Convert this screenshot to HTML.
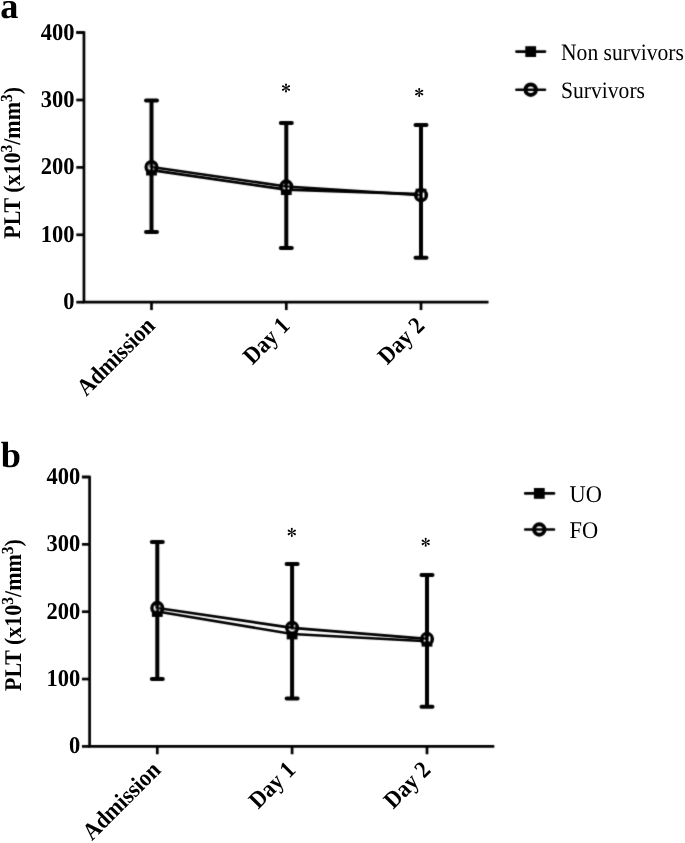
<!DOCTYPE html>
<html><head><meta charset="utf-8"><style>
html,body{margin:0;padding:0;background:#fff;}
body{width:685px;height:843px;overflow:hidden;}
svg{display:block;}
#w{filter:grayscale(1);width:685px;height:843px;}
text{font-family:"Liberation Serif",serif;fill:#000;text-rendering:geometricPrecision;}
.tl{font-weight:bold;font-size:22px;}
.sup{font-size:15.5px;}
.pl{font-weight:bold;font-size:36.3px;}
.lg{font-size:21.6px;}
.ast{font-size:22px;}
</style></head><body>
<div id="w"><svg width="685" height="843" viewBox="0 0 685 843">
<defs><filter id="bl" x="0" y="0" width="685" height="843" filterUnits="userSpaceOnUse"><feConvolveMatrix order="3" kernelMatrix="0.0196 0.1008 0.0196 0.1008 0.5184 0.1008 0.0196 0.1008 0.0196" divisor="1" edgeMode="none"/></filter></defs>
<rect width="685" height="843" fill="#fff"/>
<g filter="url(#bl)">
<path d="M76.30 32.50H83.95V302.20H488.50" fill="none" stroke="#000" stroke-width="2.7" stroke-linejoin="miter"/>
<line x1="76.30" y1="302.20" x2="83.95" y2="302.20" stroke="#000" stroke-width="2.7"/>
<line x1="76.30" y1="234.80" x2="83.95" y2="234.80" stroke="#000" stroke-width="2.7"/>
<line x1="76.30" y1="167.40" x2="83.95" y2="167.40" stroke="#000" stroke-width="2.7"/>
<line x1="76.30" y1="100.00" x2="83.95" y2="100.00" stroke="#000" stroke-width="2.7"/>
<line x1="76.30" y1="32.50" x2="83.95" y2="32.50" stroke="#000" stroke-width="2.7"/>
<line x1="151.50" y1="302.20" x2="151.50" y2="310.05" stroke="#000" stroke-width="2.7"/>
<line x1="286.30" y1="302.20" x2="286.30" y2="310.05" stroke="#000" stroke-width="2.7"/>
<line x1="421.00" y1="302.20" x2="421.00" y2="310.05" stroke="#000" stroke-width="2.7"/>
<polyline points="151.50,170.10 286.30,189.64 421.00,194.09" fill="none" stroke="#000" stroke-width="2.6"/>
<rect x="146.10" y="164.70" width="10.8" height="10.8" fill="#000"/>
<rect x="280.90" y="184.24" width="10.8" height="10.8" fill="#000"/>
<rect x="415.60" y="188.69" width="10.8" height="10.8" fill="#000"/>
<circle cx="151.50" cy="167.00" r="5.2" fill="#fff"/>
<circle cx="286.30" cy="186.47" r="5.2" fill="#fff"/>
<circle cx="421.00" cy="195.17" r="5.2" fill="#fff"/>
<polyline points="151.50,167.00 286.30,186.47 421.00,195.17" fill="none" stroke="#000" stroke-width="2.6"/>
<path d="M151.50 167.00V100.47M146.00 100.47H157.00M151.50 170.10V232.10M146.00 232.10H157.00" stroke="#000" stroke-width="4.0" stroke-linecap="round" fill="none"/>
<path d="M286.30 186.47V122.98M280.80 122.98H291.80M286.30 189.64V247.88M280.80 247.88H291.80" stroke="#000" stroke-width="4.0" stroke-linecap="round" fill="none"/>
<path d="M421.00 195.17V125.01M415.50 125.01H426.50M421.00 194.09V257.72M415.50 257.72H426.50" stroke="#000" stroke-width="4.0" stroke-linecap="round" fill="none"/>
<circle cx="151.50" cy="167.00" r="5.2" fill="none" stroke="#000" stroke-width="3.8"/>
<circle cx="286.30" cy="186.47" r="5.2" fill="none" stroke="#000" stroke-width="3.8"/>
<circle cx="421.00" cy="195.17" r="5.2" fill="none" stroke="#000" stroke-width="3.8"/>
<line x1="516.4" y1="51.6" x2="545.0" y2="51.6" stroke="#000" stroke-width="2.6" stroke-linecap="round"/>
<rect x="525.30" y="46.20" width="10.8" height="10.8" fill="#000"/>
<line x1="516.4" y1="89.7" x2="545.0" y2="89.7" stroke="#000" stroke-width="2.6" stroke-linecap="round"/>
<circle cx="530.70" cy="89.70" r="5.2" fill="none" stroke="#000" stroke-width="4.0"/>
<path d="M81.95 477.00H89.60V746.40H494.30" fill="none" stroke="#000" stroke-width="2.7" stroke-linejoin="miter"/>
<line x1="81.95" y1="746.40" x2="89.60" y2="746.40" stroke="#000" stroke-width="2.7"/>
<line x1="81.95" y1="679.05" x2="89.60" y2="679.05" stroke="#000" stroke-width="2.7"/>
<line x1="81.95" y1="611.70" x2="89.60" y2="611.70" stroke="#000" stroke-width="2.7"/>
<line x1="81.95" y1="544.35" x2="89.60" y2="544.35" stroke="#000" stroke-width="2.7"/>
<line x1="81.95" y1="477.00" x2="89.60" y2="477.00" stroke="#000" stroke-width="2.7"/>
<line x1="157.30" y1="746.40" x2="157.30" y2="754.25" stroke="#000" stroke-width="2.7"/>
<line x1="292.10" y1="746.40" x2="292.10" y2="754.25" stroke="#000" stroke-width="2.7"/>
<line x1="427.00" y1="746.40" x2="427.00" y2="754.25" stroke="#000" stroke-width="2.7"/>
<polyline points="157.30,611.50 292.10,633.99 427.00,641.20" fill="none" stroke="#000" stroke-width="2.6"/>
<rect x="151.90" y="606.10" width="10.8" height="10.8" fill="#000"/>
<rect x="286.70" y="628.59" width="10.8" height="10.8" fill="#000"/>
<rect x="421.60" y="635.80" width="10.8" height="10.8" fill="#000"/>
<circle cx="157.30" cy="607.93" r="5.2" fill="#fff"/>
<circle cx="292.10" cy="627.86" r="5.2" fill="#fff"/>
<circle cx="427.00" cy="638.91" r="5.2" fill="#fff"/>
<polyline points="157.30,607.93 292.10,627.86 427.00,638.91" fill="none" stroke="#000" stroke-width="2.6"/>
<path d="M157.30 607.93V541.99M151.80 541.99H162.80M157.30 611.50V679.05M151.80 679.05H162.80" stroke="#000" stroke-width="4.0" stroke-linecap="round" fill="none"/>
<path d="M292.10 627.86V564.02M286.60 564.02H297.60M292.10 633.99V698.58M286.60 698.58H297.60" stroke="#000" stroke-width="4.0" stroke-linecap="round" fill="none"/>
<path d="M427.00 638.91V574.99M421.50 574.99H432.50M427.00 641.20V706.80M421.50 706.80H432.50" stroke="#000" stroke-width="4.0" stroke-linecap="round" fill="none"/>
<circle cx="157.30" cy="607.93" r="5.2" fill="none" stroke="#000" stroke-width="3.8"/>
<circle cx="292.10" cy="627.86" r="5.2" fill="none" stroke="#000" stroke-width="3.8"/>
<circle cx="427.00" cy="638.91" r="5.2" fill="none" stroke="#000" stroke-width="3.8"/>
<line x1="525.2" y1="493.4" x2="554.0" y2="493.4" stroke="#000" stroke-width="2.6" stroke-linecap="round"/>
<rect x="533.90" y="488.00" width="10.8" height="10.8" fill="#000"/>
<line x1="525.2" y1="529.5" x2="554.0" y2="529.5" stroke="#000" stroke-width="2.6" stroke-linecap="round"/>
<circle cx="539.30" cy="529.50" r="5.2" fill="none" stroke="#000" stroke-width="4.0"/>
</g>
<g>
<text class="tl" style="font-size:22.5px" text-anchor="end" transform="translate(74.60,309.20) scale(1,1.07)">0</text>
<text class="tl" style="font-size:22.5px" text-anchor="end" transform="translate(74.60,241.80) scale(1,1.07)">100</text>
<text class="tl" style="font-size:22.5px" text-anchor="end" transform="translate(74.60,174.40) scale(1,1.07)">200</text>
<text class="tl" style="font-size:22.5px" text-anchor="end" transform="translate(74.60,107.00) scale(1,1.07)">300</text>
<text class="tl" style="font-size:22.5px" text-anchor="end" transform="translate(74.60,39.50) scale(1,1.07)">400</text>
<path d="M286.15 88.00L287.00 84.45A1.0 1.0 0 1 0 285.00 84.45L285.85 88.00ZM285.85 88.00L285.00 91.55A1.0 1.0 0 1 0 287.00 91.55L286.15 88.00ZM286.07 88.13L289.57 87.09A1.0 1.0 0 1 0 288.57 85.36L285.93 87.87ZM286.07 87.87L283.43 85.36A1.0 1.0 0 1 0 282.43 87.09L285.93 88.13ZM285.93 87.87L282.43 88.91A1.0 1.0 0 1 0 283.43 90.64L286.07 88.13ZM285.93 88.13L288.57 90.64A1.0 1.0 0 1 0 289.57 88.91L286.07 87.87Z" fill="#000"/>
<path d="M419.35 92.50L420.20 88.95A1.0 1.0 0 1 0 418.20 88.95L419.05 92.50ZM419.05 92.50L418.20 96.05A1.0 1.0 0 1 0 420.20 96.05L419.35 92.50ZM419.27 92.63L422.77 91.59A1.0 1.0 0 1 0 421.77 89.86L419.12 92.37ZM419.27 92.37L416.63 89.86A1.0 1.0 0 1 0 415.63 91.59L419.12 92.63ZM419.12 92.37L415.63 93.41A1.0 1.0 0 1 0 416.63 95.14L419.27 92.63ZM419.12 92.63L421.77 95.14A1.0 1.0 0 1 0 422.77 93.41L419.27 92.37Z" fill="#000"/>
<text class="tl" text-anchor="end" transform="translate(156.20,327.05) rotate(-45) scale(1,1.09)">Admission</text>
<text class="tl" text-anchor="end" transform="translate(291.00,327.05) rotate(-45) scale(1,1.09)">Day 1</text>
<text class="tl" text-anchor="end" transform="translate(425.70,327.05) rotate(-45) scale(1,1.09)">Day 2</text>
<text class="tl" text-anchor="middle" transform="translate(19.90,162.80) rotate(-90) scale(1,1.09)">PLT (x10<tspan class="sup" dy="-7">3</tspan><tspan dy="7">/mm</tspan><tspan class="sup" dy="-7">3</tspan><tspan dy="7">)</tspan></text>
<text class="pl" x="0.3" y="18.2">a</text>
<text class="lg" style="font-size:21.6px" transform="translate(561.0,59.60) scale(1,1.09)">Non survivors</text>
<text class="lg" style="font-size:21.6px" transform="translate(561.0,97.70) scale(1,1.09)">Survivors</text>
<text class="tl" style="font-size:22.5px" text-anchor="end" transform="translate(80.25,753.40) scale(1,1.07)">0</text>
<text class="tl" style="font-size:22.5px" text-anchor="end" transform="translate(80.25,686.05) scale(1,1.07)">100</text>
<text class="tl" style="font-size:22.5px" text-anchor="end" transform="translate(80.25,618.70) scale(1,1.07)">200</text>
<text class="tl" style="font-size:22.5px" text-anchor="end" transform="translate(80.25,551.35) scale(1,1.07)">300</text>
<text class="tl" style="font-size:22.5px" text-anchor="end" transform="translate(80.25,484.00) scale(1,1.07)">400</text>
<path d="M291.95 532.40L292.80 528.85A1.0 1.0 0 1 0 290.80 528.85L291.65 532.40ZM291.65 532.40L290.80 535.95A1.0 1.0 0 1 0 292.80 535.95L291.95 532.40ZM291.88 532.53L295.37 531.49A1.0 1.0 0 1 0 294.37 529.76L291.73 532.27ZM291.88 532.27L289.23 529.76A1.0 1.0 0 1 0 288.23 531.49L291.73 532.53ZM291.73 532.27L288.23 533.31A1.0 1.0 0 1 0 289.23 535.04L291.88 532.53ZM291.73 532.53L294.37 535.04A1.0 1.0 0 1 0 295.37 533.31L291.88 532.27Z" fill="#000"/>
<path d="M425.85 542.30L426.70 538.75A1.0 1.0 0 1 0 424.70 538.75L425.55 542.30ZM425.55 542.30L424.70 545.85A1.0 1.0 0 1 0 426.70 545.85L425.85 542.30ZM425.77 542.43L429.27 541.39A1.0 1.0 0 1 0 428.27 539.66L425.62 542.17ZM425.77 542.17L423.13 539.66A1.0 1.0 0 1 0 422.13 541.39L425.62 542.43ZM425.62 542.17L422.13 543.21A1.0 1.0 0 1 0 423.13 544.94L425.77 542.43ZM425.62 542.43L428.27 544.94A1.0 1.0 0 1 0 429.27 543.21L425.77 542.17Z" fill="#000"/>
<text class="tl" text-anchor="end" transform="translate(162.00,771.25) rotate(-45) scale(1,1.09)">Admission</text>
<text class="tl" text-anchor="end" transform="translate(296.80,771.25) rotate(-45) scale(1,1.09)">Day 1</text>
<text class="tl" text-anchor="end" transform="translate(431.70,771.25) rotate(-45) scale(1,1.09)">Day 2</text>
<text class="tl" text-anchor="middle" transform="translate(21.00,615.00) rotate(-90) scale(1,1.09)">PLT (x10<tspan class="sup" dy="-7">3</tspan><tspan dy="7">/mm</tspan><tspan class="sup" dy="-7">3</tspan><tspan dy="7">)</tspan></text>
<text class="pl" x="0.75" y="467.1">b</text>
<text class="lg" style="font-size:22.4px" transform="translate(569.6,501.90) scale(1,1.07)">UO</text>
<text class="lg" style="font-size:22.4px" transform="translate(569.6,538.00) scale(1,1.07)">FO</text>
</g>
</svg></div>
</body></html>
